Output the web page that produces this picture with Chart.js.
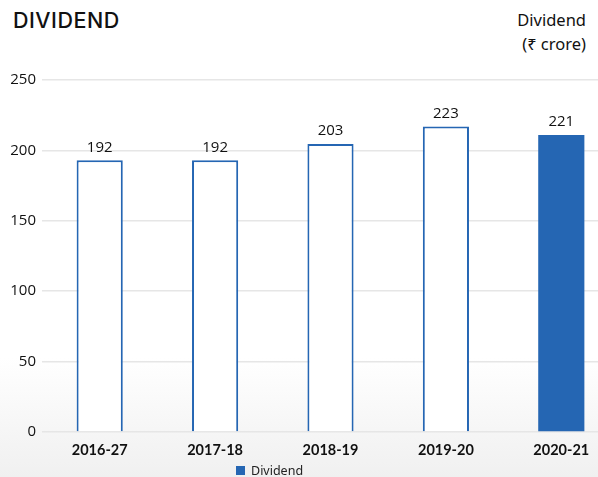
<!DOCTYPE html>
<html lang="en">
<head>
<meta charset="UTF-8">
<title>Dividend</title>
<script src="https://cdn.jsdelivr.net/npm/chart.js"></script>
<style>
  html, body { margin: 0; padding: 0; }
  body {
    width: 598px; height: 477px; overflow: hidden; position: relative;
    background: linear-gradient(to bottom, #ffffff 0%, #ffffff 75%, #f0f0f0 100%);
    font-family: Lato, "Noto Sans", sans-serif;
  }
  #title { position: absolute; left: 13px; top: 7px; font-family: Inter, sans-serif; font-size: 21.5px; font-weight: 500; color: #111; letter-spacing: 0.5px; }
  #unit { position: absolute; right: 12px; top: 8px; text-align: right; font-size: 16.5px; line-height: 24px; color: #111; font-family: "Noto Sans", Lato, sans-serif; }
  #wrap { position: absolute; left: 0; top: 0; width: 620px; height: 477px; }
  #legend { position: absolute; left: 236px; top: 462px; font-size: 12.5px; color: #222; font-family: "Noto Sans", sans-serif; }
  #legend span.box { display: inline-block; width: 9px; height: 9px; background: #2566b3; margin-right: 6px; vertical-align: 0px; }
</style>
</head>
<body>
<div id="title">DIVIDEND</div>
<div id="unit">Dividend<br>(₹ crore)</div>
<div id="wrap"><canvas id="chart" width="620" height="477"></canvas></div>
<div id="legend"><span class="box"></span>Dividend</div>

<script>
// values
const years = ['2016-27', '2017-18', '2018-19', '2019-20', '2020-21'];
const barHeights = [193, 193, 204.5, 217, 211];
const valueLabels = ['192', '192', '203', '223', '221'];
const yTicks = [0, 50, 100, 150, 200, 250];

const blue = '#2566b3';

// write the value text above each bar
const barLabels = {
  id: 'barLabels',
  afterDatasetsDraw(chart) {
    const ctx = chart.ctx;
    const meta = chart.getDatasetMeta(0);
    ctx.save();
    ctx.font = '15px "Open Sans", sans-serif';
    ctx.fillStyle = '#111';
    ctx.textAlign = 'center';
    ctx.textBaseline = 'middle';
    meta.data.forEach((bar, i) => {
      ctx.fillText(valueLabels[i], bar.x, bar.y - 13);
    });
    ctx.restore();
  }
};

const ctx = document.getElementById('chart').getContext('2d');
new Chart(ctx, {
  type: 'bar',
  data: {
    labels: years,
    datasets: [{
      label: 'Dividend',
      data: barHeights,
      backgroundColor: years.map((y, i) => i === years.length - 1 ? blue : '#ffffff'),
      borderColor: blue,
      borderWidth: years.map((y, i) => i === years.length - 1 ? 0 : 2),
      barPercentage: 0.4,
      categoryPercentage: 1.0
    }]
  },
  options: {
    responsive: false,
    animation: false,
    layout: { padding: { top: 80, right: 1, bottom: 19, left: 0 } },
    plugins: {
      legend: { display: false },
      tooltip: { enabled: false }
    },
    scales: {
      x: {
        grid: { display: false },
        border: { display: false },
        ticks: {
          color: '#111',
          padding: 2,
          font: { family: 'Lato', size: 14.5, weight: '700' }
        },
        afterFit(scale) { scale.height = 26; }
      },
      y: {
        min: 0,
        max: 250,
        afterBuildTicks(scale) { scale.ticks = yTicks.map(v => ({ value: v })); },
        grid: { color: '#e6e6e6', lineWidth: 1.5, drawTicks: false },
        border: { display: false },
        ticks: {
          color: '#111',
          padding: 6,
          font: { family: '"Open Sans"', size: 15 }
        },
        afterFit(scale) { scale.width = 42; }
      }
    }
  },
  plugins: [barLabels]
});
</script>
</body>
</html>
